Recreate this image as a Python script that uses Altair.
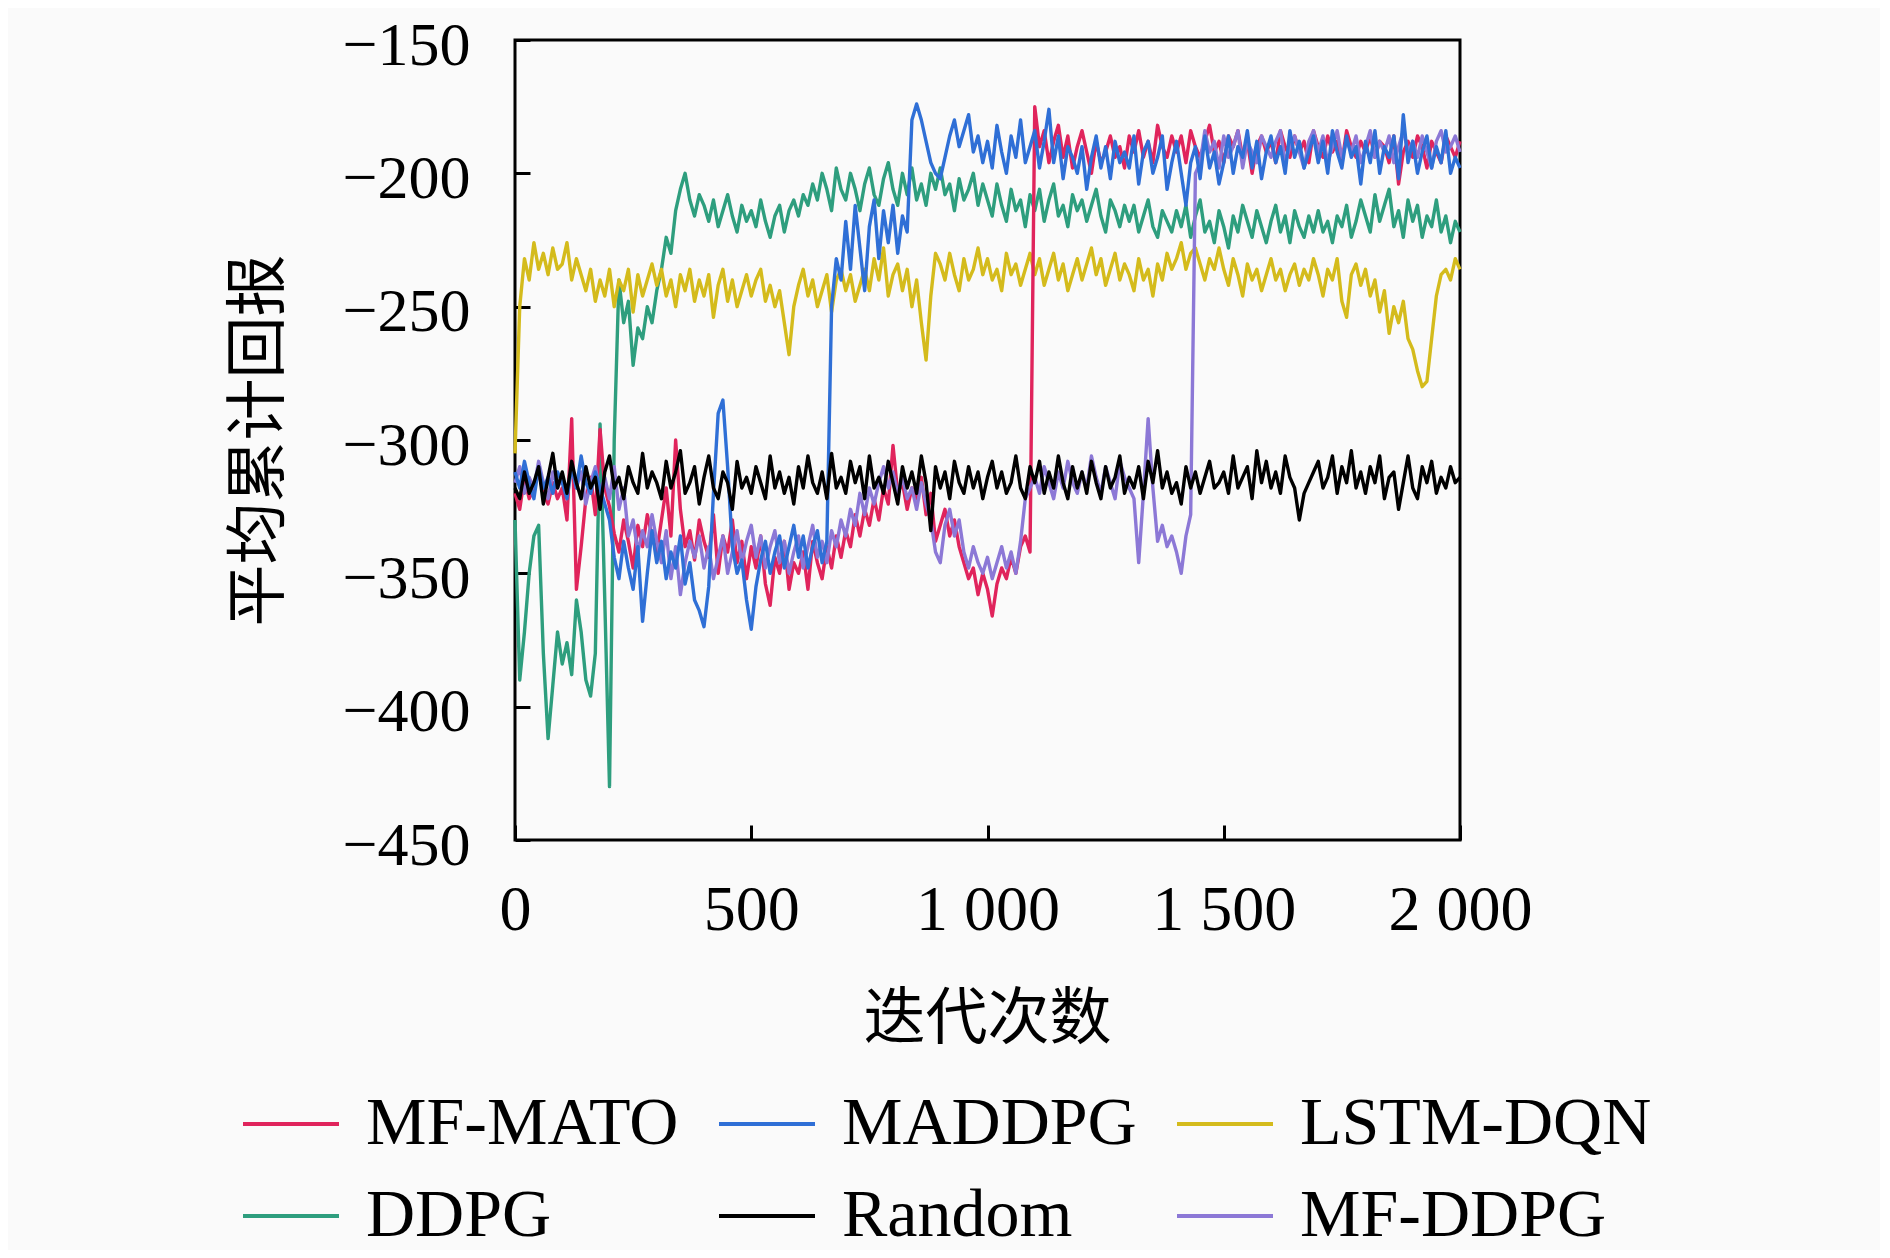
import altair as alt
import pandas as pd

iterations = list(range(0, 2001, 10))

series_names = ["MF-MATO", "MADDPG", "LSTM-DQN", "DDPG", "Random", "MF-DDPG"]
series_colors = ["#e0245c", "#2f6fd6", "#d4bb1c", "#2e9e7e", "#000000", "#8c78d6"]
draw_order = ["DDPG", "LSTM-DQN", "MF-MATO", "MF-DDPG", "MADDPG", "Random"]

x_ticks = [0, 500, 1000, 1500, 2000]
y_ticks = [-450, -400, -350, -300, -250, -200, -150]

random_vals = [
    -318, -322, -312, -320, -316, -310, -324, -314, -305, -318,
    -312, -320, -308, -316, -322, -310, -318, -314, -326, -312,
    -306, -318, -314, -322, -310, -316, -320, -305, -318, -312,
    -316, -322, -308, -318, -312, -304, -320, -316, -310, -324,
    -314, -306, -318, -322, -312, -316, -326, -308, -318, -314,
    -320, -310, -316, -322, -306, -318, -312, -320, -314, -324,
    -310, -318, -306, -316, -320, -312, -322, -305, -318, -314,
    -320, -308, -316, -310, -322, -306, -318, -314, -320, -308,
    -316, -324, -310, -318, -312, -320, -306, -316, -334, -310,
    -318, -312, -322, -308, -316, -320, -310, -318, -312, -322,
    -314, -308, -318, -312, -320, -316, -306, -318, -322, -310,
    -316, -308, -320, -312, -318, -306, -316, -322, -310, -318,
    -312, -320, -308, -316, -322, -310, -318, -314, -306, -320,
    -314, -318, -310, -322, -308, -316, -304, -318, -312, -320,
    -316, -324, -310, -318, -312, -320, -314, -308, -318, -316,
    -312, -320, -306, -318, -314, -310, -322, -304, -316, -308,
    -318, -312, -320, -306, -314, -318, -330, -320, -316, -312,
    -308, -318, -314, -306, -320, -310, -316, -304, -318, -312,
    -320, -310, -316, -306, -322, -314, -312, -326, -316, -306,
    -318, -322, -310, -316, -308, -320, -314, -318, -310, -316,
    -314,
]

mf_mato_vals = [
    -320, -326, -314, -322, -318, -312, -320, -324, -316, -322,
    -318, -330, -292, -356, -340, -322, -314, -328, -296, -318,
    -325, -335, -342, -330, -338, -348, -332, -340, -328, -336,
    -342, -330, -318, -336, -300, -326, -340, -334, -345, -330,
    -338, -344, -328, -350, -336, -342, -330, -346, -338, -352,
    -340, -348, -336, -354, -362, -344, -350, -338, -356, -346,
    -350, -342, -356, -338, -346, -352, -340, -348, -336, -344,
    -334, -340, -328, -336, -326, -332, -322, -330, -318, -324,
    -302, -320, -316, -326, -318, -322, -314, -328, -320, -338,
    -332, -326, -336, -330, -340, -346, -352, -348, -358, -350,
    -356, -366, -354, -348, -352, -344, -350, -340, -336, -342,
    -175, -190, -184, -196, -188, -182, -194, -186, -198, -190,
    -184, -192, -200, -188, -196, -192, -186, -194, -190, -198,
    -186, -192, -184, -194, -188, -196, -182, -190, -194, -186,
    -192, -186, -196, -184, -190, -194, -188, -182, -192, -188,
    -196, -186, -190, -184, -194, -188, -200, -190, -186, -192,
    -188, -196, -184, -190, -194, -186, -192, -188, -196, -184,
    -190, -194, -186, -192, -188, -196, -184, -190, -194, -188,
    -192, -186, -194, -188, -190, -196, -186, -204, -192, -188,
    -194, -186, -190, -198, -188, -192, -196, -186, -190, -194,
    -188,
]

maddpg_vals = [
    -312, -318, -308, -316, -322, -310, -318, -314, -320, -312,
    -316, -322, -310, -318, -306, -316, -320, -312, -318, -324,
    -330, -344, -352, -338, -348, -356, -340, -368, -350, -334,
    -346, -338, -352, -342, -348, -336, -354, -346, -360, -364,
    -370, -355, -320, -290, -285, -310, -340, -350, -345, -360,
    -371, -355, -345, -338, -350, -342, -336, -348, -340, -332,
    -344, -336, -348, -340, -334, -346, -338, -250, -232, -240,
    -218, -236, -212, -228, -244, -220, -210, -232, -214, -226,
    -212, -230, -216, -222, -180, -174, -180, -188, -196, -200,
    -202, -194, -186, -180, -190, -184, -178, -192, -186, -196,
    -188, -198, -182, -192, -200, -186, -194, -180, -196, -190,
    -184, -198, -188, -176, -196, -186, -202, -190, -194, -200,
    -190, -206, -194, -186, -198, -190, -202, -188, -196, -192,
    -198, -186, -204, -192, -188, -200, -194, -186, -206, -196,
    -188, -200, -212, -196, -190, -202, -186, -198, -192, -204,
    -196, -186, -200, -190, -194, -184, -198, -188, -202, -192,
    -186, -196, -190, -200, -184, -194, -188, -198, -192, -186,
    -196, -188, -200, -184, -192, -198, -186, -194, -190, -204,
    -188, -196, -184, -200, -190, -194, -186, -202, -178, -196,
    -188, -200, -192, -186, -198, -190, -196, -184, -200, -194,
    -198,
]

mf_ddpg_vals = [
    -316, -310, -320, -314, -318, -308, -316, -322, -312, -318,
    -314, -320, -310, -318, -312, -324, -316, -310, -320, -314,
    -322, -310, -326, -318, -336, -330, -342, -334, -340, -328,
    -338, -346, -334, -352, -340, -358, -346, -338, -344, -336,
    -348, -340, -352, -344, -336, -350, -342, -334, -346, -338,
    -332, -344, -336, -348, -340, -334, -346, -338, -350, -342,
    -336, -348, -340, -332, -344, -338, -346, -334, -340, -330,
    -336, -326, -332, -320, -328, -318, -324, -316, -310, -318,
    -312, -320, -314, -322, -318, -326, -316, -324, -330, -342,
    -346, -332, -326, -336, -330, -342, -348, -340, -346, -350,
    -344, -352, -346, -340, -348, -342, -350, -338, -322, -318,
    -314, -320, -310, -316, -322, -312, -318, -308, -316, -320,
    -312, -318, -306, -314, -320, -310, -316, -322, -308, -314,
    -318, -322, -346, -320, -292, -318, -338, -332, -340, -336,
    -342, -350, -336, -328, -200, -196, -184, -192, -188, -198,
    -186, -194, -190, -184, -198, -188, -192, -196, -186, -190,
    -194, -188, -184, -196, -190, -186, -192, -198, -188, -184,
    -192, -186, -196, -190, -184, -194, -188, -192, -186, -196,
    -190, -184, -194, -188, -192, -186, -196, -190, -184, -192,
    -188, -194, -186, -192, -198, -188, -184, -192, -190, -186,
    -192,
]

lstm_dqn_vals = [
    -305, -250, -232, -240, -226, -236, -230, -238, -228, -236,
    -234, -226, -240, -232, -238, -244, -236, -248, -240, -246,
    -236, -250, -240, -244, -236, -252, -238, -246, -240, -234,
    -242, -236, -246, -240, -250, -238, -244, -236, -248, -240,
    -246, -238, -254, -242, -236, -248, -240, -250, -244, -238,
    -246, -240, -236, -248, -242, -250, -244, -256, -268, -250,
    -242, -236, -246, -240, -250, -244, -238, -252, -240, -236,
    -244, -238, -248, -242, -236, -244, -232, -240, -228, -246,
    -238, -234, -244, -236, -250, -240, -256, -270, -246, -230,
    -234, -240, -230, -238, -244, -232, -240, -236, -228, -238,
    -232, -240, -236, -244, -230, -238, -234, -242, -236, -230,
    -238, -232, -242, -236, -230, -240, -234, -244, -238, -232,
    -240, -234, -228, -238, -232, -242, -236, -230, -240, -234,
    -238, -244, -232, -240, -236, -246, -234, -240, -230, -236,
    -232, -226, -236, -230, -228, -234, -240, -232, -236, -228,
    -236, -242, -232, -238, -246, -234, -240, -236, -244, -238,
    -232, -240, -236, -244, -238, -234, -242, -236, -240, -232,
    -238, -246, -236, -240, -232, -248, -254, -238, -234, -242,
    -236, -246, -240, -252, -244, -260, -250, -256, -248, -262,
    -266, -274, -280, -278, -262, -246, -238, -236, -240, -232,
    -236,
]

ddpg_vals = [
    -330, -390, -372, -350, -336, -332, -380, -412, -392, -372,
    -384, -376, -388, -360, -372, -390, -396, -380, -294, -360,
    -430, -300, -240, -256, -248, -272, -258, -262, -250, -256,
    -244, -236, -224, -230, -214, -206, -200, -210, -216, -208,
    -212, -218, -210, -220, -214, -208, -216, -222, -212, -218,
    -214, -220, -210, -218, -224, -216, -212, -222, -214, -210,
    -216, -208, -212, -204, -210, -200, -206, -214, -198, -206,
    -210, -200, -206, -214, -204, -198, -208, -212, -202, -196,
    -206, -212, -200, -208, -198, -210, -204, -212, -200, -206,
    -198, -208, -204, -214, -202, -210, -206, -200, -212, -204,
    -210, -216, -204, -212, -218, -206, -214, -210, -220, -208,
    -214, -206, -218, -210, -204, -216, -212, -220, -208, -214,
    -210, -218, -212, -206, -216, -222, -210, -214, -220, -212,
    -218, -212, -222, -216, -210, -220, -224, -214, -218, -222,
    -214, -220, -212, -224, -216, -210, -222, -218, -226, -214,
    -220, -228, -216, -222, -212, -218, -224, -214, -220, -226,
    -218, -212, -222, -216, -226, -214, -220, -224, -216, -222,
    -214, -222, -218, -226, -216, -220, -212, -224, -218, -210,
    -216, -222, -208, -218, -212, -206, -220, -214, -224, -210,
    -218, -212, -224, -216, -220, -210, -222, -216, -226, -218,
    -222,
]

values_by_series = {
    "MF-MATO": mf_mato_vals,
    "MADDPG": maddpg_vals,
    "LSTM-DQN": lstm_dqn_vals,
    "DDPG": ddpg_vals,
    "Random": random_vals,
    "MF-DDPG": mf_ddpg_vals,
}

rows = []
for name in draw_order:
    vals = values_by_series[name]
    for it, v in zip(iterations, vals):
        rows.append({"iter": it, "value": v, "series": name})
df = pd.DataFrame(rows)

serif = "Liberation Serif"
cjk = "Noto Sans CJK SC"

chart = (
    alt.Chart(df)
    .mark_line(strokeWidth=3.4, strokeJoin="round")
    .encode(
        x=alt.X(
            "iter:Q",
            scale=alt.Scale(domain=[0, 2000], nice=False),
            axis=alt.Axis(
                values=x_ticks,
                labelExpr="replace(format(datum.value, ','), ',', ' ')",
                tickSize=15,
                tickWidth=3,
                tickColor="black",
                offset=-15,
                domain=False,
                grid=False,
                labelFlush=False,
                labelFont=serif,
                labelFontSize=64,
                labelColor="black",
                labelPadding=38,
                title="迭代次数",
                titleFont=cjk,
                titleFontSize=62,
                titleFontWeight="normal",
                titleColor="black",
                titleX=472,
                titleY=194,
                titleBaseline="middle",
                titleAlign="center",
            ),
        ),
        y=alt.Y(
            "value:Q",
            scale=alt.Scale(domain=[-450, -150], nice=False, zero=False),
            axis=alt.Axis(
                values=y_ticks,
                labelExpr="replace(format(datum.value, 'd'), '-', '−')",
                tickSize=15,
                tickWidth=3,
                tickColor="black",
                offset=-15,
                domain=False,
                grid=False,
                labelFont=serif,
                labelFontSize=62,
                labelColor="black",
                labelPadding=45,
                labelOffset=5,
                title="平均累计回报",
                titleFont=cjk,
                titleFontSize=62,
                titleFontWeight="normal",
                titleColor="black",
                titleX=-271,
                titleY=400,
                titleAngle=-90,
                titleBaseline="middle",
                titleAlign="center",
            ),
        ),
        color=alt.Color(
            "series:N",
            scale=alt.Scale(domain=series_names, range=series_colors),
            legend=alt.Legend(
                orient="none",
                direction="horizontal",
                legendX=-274,
                legendY=1034,
                columns=3,
                symbolType="stroke",
                symbolSize=9216,
                symbolStrokeWidth=4,
                labelFont=serif,
                labelFontSize=68,
                labelColor="black",
                labelOffset=25,
                labelLimit=0,
                columnPadding=32,
                rowPadding=8,
                title=None,
            ),
        ),
    )
    .properties(
        width=945,
        height=800,
        padding={"left": 507, "top": 32, "right": 420, "bottom": 410},
        autosize=alt.AutoSizeParams(type="none"),
        background="#fafafa",
    )
    .configure_view(stroke="black", strokeWidth=3)
)

chart.save("out.html", embed_options={"renderer": "svg", "actions": False})
